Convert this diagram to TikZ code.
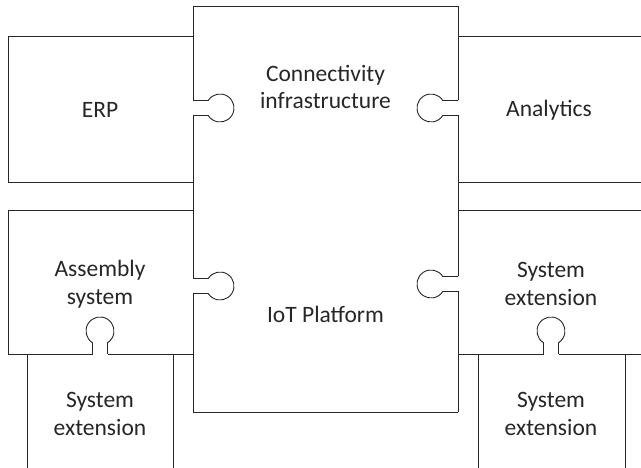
\documentclass[tikz,border=0pt]{standalone}
\usepackage{fontspec}
\setmainfont{Carlito}
\begin{document}
\begin{tikzpicture}[x=1pt,y=1pt,
  edge/.style={draw=black!85,line width=0.9pt,line join=miter},
  lbl/.style={align=center,text=black!85,font=\fontsize{23.5}{27.5}\selectfont,inner sep=0pt}]
\useasboundingbox (0,0) rectangle (641,468);
\def\kr{14pt}
% central piece
\draw[edge] (193,462) -- (458,462);
\draw[edge] (458,462) -- (458,367.5) (458,352.5) -- (458,191.5) (458,176.5) -- (458,56);
\draw[edge] (458,56) -- (193,56);
\draw[edge] (193,56) -- (193,174.5) (193,189.5) -- (193,352.5) (193,367.5) -- (193,462);
% knobs into central piece from the left (bulging right)
\draw[edge] (193,367.5) -- (208.2,367.5) arc[start angle=147.6,end angle=-147.6,radius=\kr] -- (193,352.5);
\draw[edge] (193,189.5) -- (208.2,189.5) arc[start angle=147.6,end angle=-147.6,radius=\kr] -- (193,174.5);
% knobs into central piece from the right (bulging left)
\draw[edge] (458,367.5) -- (442.8,367.5) arc[start angle=32.4,end angle=327.6,radius=\kr] -- (458,352.5);
\draw[edge] (458,191.5) -- (442.8,191.5) arc[start angle=32.4,end angle=327.6,radius=\kr] -- (458,176.5);
% ERP
\draw[edge] (193,432) -- (8,432) -- (8,286) -- (193,286);
% Analytics
\draw[edge] (641,432) -- (458,432) (458,286) -- (641,286);
% Assembly system
\draw[edge] (193,258) -- (8,258) -- (8,114) -- (92.5,114) (107.5,114) -- (193,114);
% upper right system extension
\draw[edge] (641,258) -- (458,258) (458,114) -- (543.5,114) (558.5,114) -- (641,114);
% bottom knobs (bulging up)
\draw[edge] (92.5,114) -- (92.5,125.2) arc[start angle=237.6,end angle=-57.6,radius=\kr] -- (107.5,114);
\draw[edge] (543.5,114) -- (543.5,125.2) arc[start angle=237.6,end angle=-57.6,radius=\kr] -- (558.5,114);
% lower system extensions
\draw[edge] (27,114) -- (27,0) (173,114) -- (173,0);
\draw[edge] (478,114) -- (478,0) (625,114) -- (625,0);
% labels
\node[lbl] (erp) at (100,358) {ERP};
\node[lbl] (conn) at (325.5,381) {Connectivity\\infrastructure};
\node[lbl] (ana) at (549,358) {Analytics};
\node[lbl] (asm) at (100,184) {Assembly\\system};
\node[lbl] (iot) at (325.5,154) {IoT Platform};
\node[lbl] (ser) at (551,184) {System\\extension};
\node[lbl] (sell) at (100,54) {System\\extension};
\node[lbl] (selr) at (551,54) {System\\extension};
\end{tikzpicture}
\end{document}
